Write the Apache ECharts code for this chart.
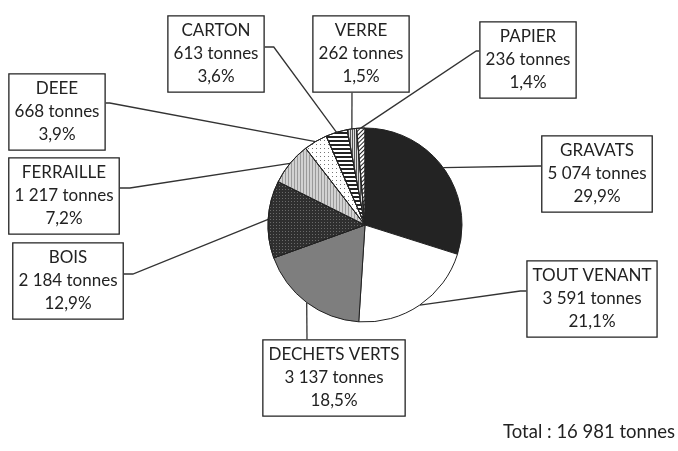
<!DOCTYPE html>
<html>
<head>
<meta charset="utf-8">
<script src="https://cdn.jsdelivr.net/npm/echarts@6/dist/echarts.min.js"></script>
<style>
  html, body { margin: 0; padding: 0; background: #fff; }
  #chart { width: 678px; height: 451px; }
</style>
</head>
<body>
<div id="chart"></div>
<script>
// catégories, dans le sens horaire depuis midi
const categories = ["GRAVATS", "TOUT VENANT", "DECHETS VERTS", "BOIS", "FERRAILLE", "DEEE", "CARTON", "VERRE", "PAPIER"];
const tonnes = [5074, 3591, 3137, 2184, 1217, 668, 613, 262, 236];
const totalLabel = "Total : 16 981 tonnes";

// remplissages (gris + motifs façon impression N&B)
const FILLS = [
  { color: "#232323" },
  { color: "#ffffff" },
  { color: "#7e7e7e" },
  { color: "#2f2f2f", decal: { symbol: "rect", symbolSize: 1, dashArrayX: [1, 2], dashArrayY: [1, 2], color: "#6a6a6a" } },
  { color: "#d2d2d2", decal: { symbol: "rect", symbolSize: 1, dashArrayX: [1, 2], dashArrayY: [1, 0], color: "#9a9a9a" } },
  { color: "#ffffff", decal: { symbol: "rect", symbolSize: 1, dashArrayX: [1, 3], dashArrayY: [1, 3], color: "#777" } },
  { color: "#ffffff", decal: { symbol: "rect", symbolSize: 1, dashArrayX: [1, 0], dashArrayY: [2, 2], color: "#222" } },
  { color: "#dcdcdc", decal: { symbol: "rect", symbolSize: 1, dashArrayX: [1, 1], dashArrayY: [1, 0], color: "#555" } },
  { color: "#ffffff", decal: { symbol: "rect", symbolSize: 1, dashArrayX: [1, 0], dashArrayY: [1, 2], rotation: -Math.PI / 4, color: "#222" } },
];

// position des étiquettes (centre de la boîte) et point d'attache du trait
const BOXES = [
  { x: 597, y: 174, side: "left", off: -8, bend: 2 },
  { x: 592, y: 299, side: "left", off: -8, bend: 6 },
  { x: 334, y: 378, side: "top", off: -27, bend: 0 },
  { x: 68, y: 281, side: "right", off: -7, bend: 9 },
  { x: 64, y: 196, side: "right", off: -8, bend: 10 },
  { x: 57, y: 112, side: "right", off: -9, bend: 4 },
  { x: 216, y: 54, side: "right", off: -7, bend: 9 },
  { x: 361, y: 54, side: "bottom", off: -9, bend: 0 },
  { x: 528, y: 60, side: "left", off: -9, bend: 3 },
];

const FONT = "Lato, 'Open Sans', sans-serif";

const fmtThousands = v => String(v).replace(/\B(?=(\d{3})+(?!\d))/g, " ");

const chart = echarts.init(document.getElementById("chart"));

chart.setOption({
  animation: false,
  backgroundColor: "#fff",
  graphic: [
    {
      type: "text",
      right: 3,
      top: 423,
      style: { text: totalLabel, font: "18.5px " + FONT, fill: "#222" },
    },
  ],
  series: [
    {
      type: "pie",
      center: [365, 225],
      radius: 97,
      startAngle: 90,
      clockwise: true,
      percentPrecision: 1,
      emphasis: { disabled: true },
      itemStyle: { borderColor: "#222", borderWidth: 1 },
      data: categories.map((name, i) => ({
        name,
        value: tonnes[i],
        itemStyle: FILLS[i],
      })),
      label: {
        show: true,
        position: "outside",
        formatter: p =>
          p.name + "\n" + fmtThousands(p.value) + " tonnes\n" + p.percent.toFixed(1).replace(".", ",") + "%",
        fontFamily: FONT,
        fontSize: 17,
        lineHeight: 23,
        color: "#222",
        align: "center",
        backgroundColor: "#fff",
        borderColor: "#222",
        borderWidth: 1.3,
        padding: [3, 5, 3, 5],
      },
      labelLine: {
        show: true,
        length: 10,
        length2: 10,
        lineStyle: { color: "#333", width: 1.3 },
      },
      labelLayout: function (p) {
        const b = BOXES[p.dataIndex];
        const w = p.labelRect.width;
        const h = p.labelRect.height;
        let end, bend;
        if (b.side === "left") {
          end = [b.x - w / 2, b.y + b.off];
          bend = [end[0] - b.bend, end[1]];
        } else if (b.side === "right") {
          end = [b.x + w / 2, b.y + b.off];
          bend = [end[0] + b.bend, end[1]];
        } else if (b.side === "top") {
          end = [b.x + b.off, b.y - h / 2];
          bend = [end[0], end[1] - b.bend];
        } else {
          end = [b.x + b.off, b.y + h / 2];
          bend = [end[0], end[1] + b.bend];
        }
        const start = p.labelLinePoints ? p.labelLinePoints[0] : bend;
        return {
          x: b.x,
          y: b.y,
          align: "center",
          verticalAlign: "middle",
          labelLinePoints: [start, bend, end],
        };
      },
    },
  ],
});
</script>
</body>
</html>
